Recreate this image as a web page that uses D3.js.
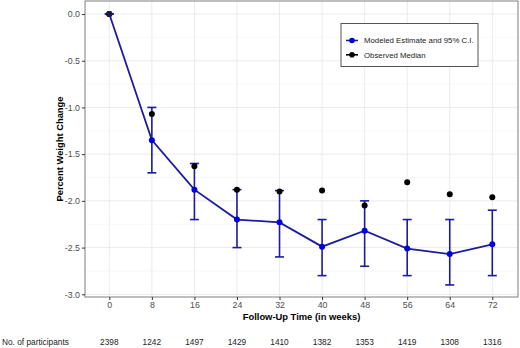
<!DOCTYPE html>
<html>
<head>
<meta charset="utf-8">
<script src="https://cdn.jsdelivr.net/npm/d3@7"></script>
<style>
body { margin: 0; background: #fff; }
svg { display: block; font-family: Arial, "Liberation Sans", sans-serif; }
</style>
</head>
<body>
<svg width="520" height="348"></svg>
<script>
const weeks = [0, 8, 16, 24, 32, 40, 48, 56, 64, 72];
const modeled = [0, -1.35, -1.88, -2.2, -2.23, -2.49, -2.32, -2.51, -2.57, -2.465];
const ciUpper = [0, -1.0, -1.6, -1.88, -1.89, -2.2, -2.0, -2.2, -2.2, -2.1];
const ciLower = [0, -1.7, -2.2, -2.5, -2.6, -2.8, -2.7, -2.8, -2.9, -2.8];
const observed = [0, -1.07, -1.63, -1.88, -1.9, -1.89, -2.05, -1.8, -1.93, -1.96];
const participants = [2398, 1242, 1497, 1429, 1410, 1382, 1353, 1419, 1308, 1316];
const yTicks = [0, -0.5, -1, -1.5, -2, -2.5, -3];
const yMinor = [-0.25, -0.75, -1.25, -1.75, -2.25, -2.75];

const svg = d3.select("svg");
const panel = { left: 85, right: 518, top: 1, bottom: 297 };

const scX = d3.scaleLinear().domain([0, 72]).range([109.3, 492.3]);
const scY = d3.scaleLinear().domain([-3, 0]).range([294.3, 14]);

const data = weeks.map((w, i) => ({
    week: w, est: modeled[i], hi: ciUpper[i], lo: ciLower[i], obs: observed[i], n: participants[i]
}));

// grid
svg.selectAll(".gy-minor").data(yMinor).enter().append("line")
    .attr("x1", panel.left).attr("x2", panel.right)
    .attr("y1", d => scY(d)).attr("y2", d => scY(d))
    .style("stroke", "#f2f2f2").style("stroke-width", 0.6);
svg.selectAll(".gy").data(yTicks).enter().append("line")
    .attr("x1", panel.left).attr("x2", panel.right)
    .attr("y1", d => scY(d)).attr("y2", d => scY(d))
    .style("stroke", "#ebebeb").style("stroke-width", 1);
svg.selectAll(".gx").data(weeks).enter().append("line")
    .attr("y1", panel.top).attr("y2", panel.bottom)
    .attr("x1", d => scX(d)).attr("x2", d => scX(d))
    .style("stroke", "#ebebeb").style("stroke-width", 1);

// panel border
svg.append("rect")
    .attr("x", panel.left).attr("y", panel.top)
    .attr("width", panel.right - panel.left).attr("height", panel.bottom - panel.top)
    .style("fill", "none").style("stroke", "#7f7f7f").style("stroke-width", 1);

// axes
const fmtY = d => d3.format(".1f")(d).replace("\u2212", "-");
const axisX = d3.axisBottom(scX).tickValues(weeks).tickSize(3).tickPadding(2).tickFormat(d3.format("d"));
const axisY = d3.axisLeft(scY).tickValues(yTicks).tickSize(3).tickPadding(2).tickFormat(fmtY);

const gx = svg.append("g").attr("transform", `translate(0, ${panel.bottom})`).call(axisX);
const gy = svg.append("g").attr("transform", `translate(${panel.left}, 0)`).call(axisY);
[gx, gy].forEach(g => {
    g.select(".domain").remove();
    g.selectAll("line").style("stroke", "#333");
    g.selectAll("text").style("fill", "#4d4d4d").style("font-size", "8.8px");
});

// axis titles
svg.append("text")
    .attr("x", (panel.left + panel.right) / 2).attr("y", 320)
    .attr("text-anchor", "middle")
    .style("font-weight", "bold").style("font-size", "9.4px")
    .text("Follow-Up Time (in weeks)");
svg.append("text")
    .attr("transform", `translate(63, ${(panel.top + panel.bottom) / 2}) rotate(-90)`)
    .attr("text-anchor", "middle")
    .style("font-weight", "bold").style("font-size", "9.4px")
    .text("Percent Weight Change");

// error bars
const lineColor = "#1c1c9c";
const cap = 4.5;
const eb = svg.append("g");
eb.selectAll(".v").data(data).enter().append("line")
    .attr("x1", d => scX(d.week)).attr("x2", d => scX(d.week))
    .attr("y1", d => scY(d.hi)).attr("y2", d => scY(d.lo))
    .style("stroke", lineColor).style("stroke-width", 1.6);
eb.selectAll(".ct").data(data).enter().append("line")
    .attr("x1", d => scX(d.week) - cap).attr("x2", d => scX(d.week) + cap)
    .attr("y1", d => scY(d.hi)).attr("y2", d => scY(d.hi))
    .style("stroke", lineColor).style("stroke-width", 1.6);
eb.selectAll(".cb").data(data).enter().append("line")
    .attr("x1", d => scX(d.week) - cap).attr("x2", d => scX(d.week) + cap)
    .attr("y1", d => scY(d.lo)).attr("y2", d => scY(d.lo))
    .style("stroke", lineColor).style("stroke-width", 1.6);

// observed medians
svg.selectAll(".obs").data(data).enter().append("circle")
    .attr("cx", d => scX(d.week)).attr("cy", d => scY(d.obs)).attr("r", 3)
    .style("fill", "#000");

// modeled line + points
const line = d3.line().x(d => scX(d.week)).y(d => scY(d.est));
svg.append("path").datum(data).attr("d", line)
    .style("fill", "none").style("stroke", lineColor).style("stroke-width", 1.8);
svg.selectAll(".est").data(data).enter().append("circle")
    .attr("cx", d => scX(d.week)).attr("cy", d => scY(d.est)).attr("r", 3)
    .style("fill", "#0000e6");
// at week 0 the black median sits on top
svg.append("circle").datum(data[0])
    .attr("cx", d => scX(d.week)).attr("cy", d => scY(d.obs)).attr("r", 3)
    .style("fill", "#1a1a40");

// legend
const lg = svg.append("g").attr("transform", "translate(341, 23.5)");
lg.append("rect").attr("width", 137).attr("height", 43)
    .style("fill", "#fff").style("stroke", "#555").style("stroke-width", 1);
const legendItems = [
    { label: "Modeled Estimate and 95% C.I.", color: "#0000e6", stroke: lineColor },
    { label: "Observed Median", color: "#000", stroke: "#000" }
];
legendItems.forEach((it, i) => {
    const y = 17 + i * 14.3;
    lg.append("line").attr("x1", 5).attr("x2", 17).attr("y1", y).attr("y2", y)
        .style("stroke", it.stroke).style("stroke-width", 1.6);
    lg.append("circle").attr("cx", 11).attr("cy", y).attr("r", 2.8).style("fill", it.color);
    lg.append("text").attr("x", 23).attr("y", y).attr("dy", "0.35em")
        .style("font-size", "7.8px").style("fill", "#222").text(it.label);
});

// participants row
svg.append("text").attr("x", 2).attr("y", 342).attr("dy", "0.35em")
    .style("font-size", "8.3px").style("fill", "#222").text("No. of participants");
svg.selectAll(".np").data(data).enter().append("text")
    .attr("x", d => scX(d.week)).attr("y", 342).attr("dy", "0.35em")
    .attr("text-anchor", "middle")
    .style("font-size", "8.3px").style("fill", "#222").text(d => d.n);
</script>
</body>
</html>
